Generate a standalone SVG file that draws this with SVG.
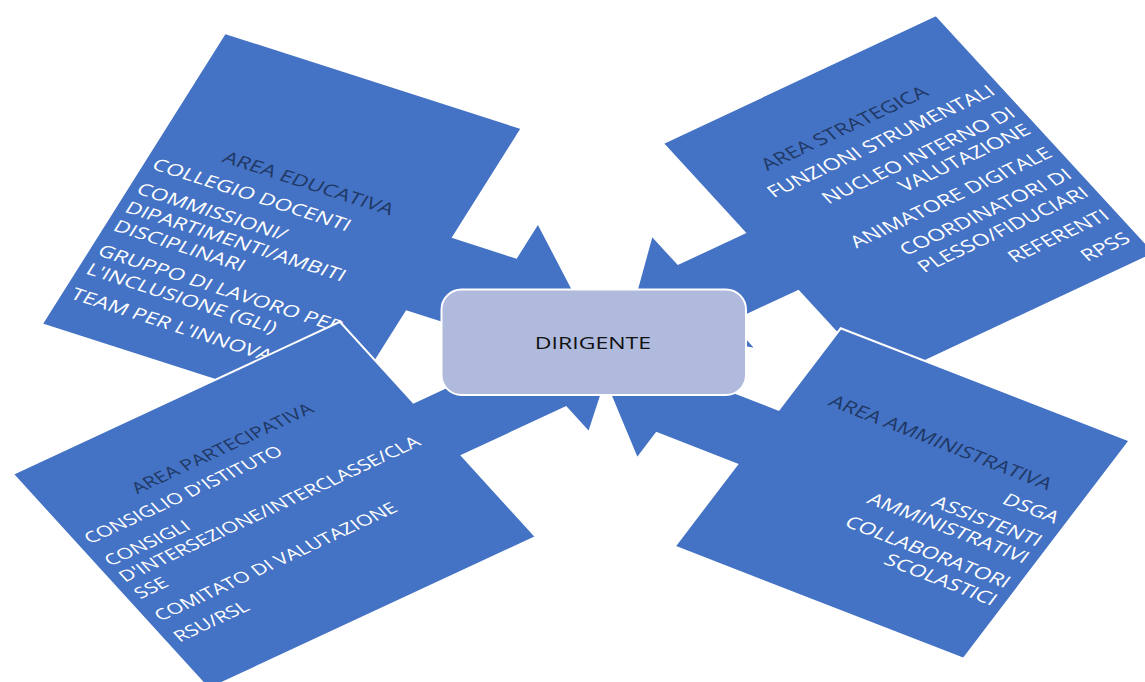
<svg xmlns="http://www.w3.org/2000/svg" width="1145" height="682" viewBox="0 0 1145 682">
<style>
.shape{fill:#4472C4;stroke:#FFFFFF;stroke-width:2;vector-effect:non-scaling-stroke;stroke-linejoin:miter}
.t{font-family:"Open Sans","Liberation Sans",sans-serif;font-size:19.5px;fill:#FFFFFF}
.h{fill:#1F3864}
.c{font-size:18.2px}
.e{text-anchor:end}
.m{text-anchor:middle}
</style>
<rect width="1145" height="682" fill="#FFFFFF"/>
<g id="area-educativa" transform="matrix(1.0790 0.3464 -0.4849 0.7707 225 33)">
<polygon class="shape" points="0,0 275,0 275,141.5 333.5,141.5 333.5,96.6 424.7,189 333.5,282 333.5,237.6 275,237.6 275,378 0,378"/>
<text class="t h m" x="137.5" y="140">AREA EDUCATIVA</text>
<text class="t" x="8.3" y="172">COLLEGIO DOCENTI</text>
<text class="t" x="8.3" y="204">COMMISSIONI/</text>
<text class="t" x="8.3" y="228">DIPARTIMENTI/AMBITI</text>
<text class="t" x="8.3" y="252">DISCIPLINARI</text>
<text class="t" x="8.3" y="284">GRUPPO DI LAVORO PER</text>
<text class="t" x="8.3" y="308">L'INCLUSIONE (GLI)</text>
<text class="t" x="8.3" y="340">TEAM PER L'INNOVAZIONE</text>
</g>
<g id="area-strategica" transform="matrix(0.9888 -0.4639 0.6495 0.7063 662.7 143.3)">
<polygon class="shape" points="0,0 276.4,0 276.4,337 0,337 0,208.9 -67.5,208.9 -67.5,247 -146.3,166.5 -67.5,86 -67.5,126.4 0,126.4"/>
<text class="t h m" x="138.2" y="76">AREA STRATEGICA</text>
<text class="t e" x="268" y="106">FUNZIONI STRUMENTALI</text>
<text class="t e" x="268" y="137.5">NUCLEO INTERNO DI</text>
<text class="t e" x="268" y="161">VALUTAZIONE</text>
<text class="t e" x="268" y="194">ANIMATORE DIGITALE</text>
<text class="t e" x="268" y="224.5">COORDINATORI DI</text>
<text class="t e" x="268" y="250">PLESSO/FIDUCIARI</text>
<text class="t e" x="268" y="282">REFERENTI</text>
<text class="t e" x="268" y="314.5">RPSS</text>
</g>
<g id="area-partecipativa" transform="matrix(0.9914 -0.4611 0.6456 0.7081 12.7 474)">
<polygon class="shape" points="0,0 330,0 330,114 435,114 435,78.5 511.3,151.5 435,224.6 435,189 330,189 330,303.6 0,303.6"/>
<text class="t c h m" x="165" y="77.5">AREA PARTECIPATIVA</text>
<text class="t c" x="9.5" y="105.5">CONSIGLIO D'ISTITUTO</text>
<text class="t c" x="9.5" y="137">CONSIGLI</text>
<text class="t c" x="9.5" y="159.5">D'INTERSEZIONE/INTERCLASSE/CLA</text>
<text class="t c" x="9.5" y="183">SSE</text>
<text class="t c" x="9.5" y="214.5">COMITATO DI VALUTAZIONE</text>
<text class="t c" x="9.5" y="244">RSU/RSL</text>
</g>
<g id="area-amministrativa" transform="matrix(1.0393 0.4037 -0.5652 0.7423 840.7 328.3)">
<polygon class="shape" points="0,0 278,0 278,294 0,294 0,183.3 -77.5,183.3 -77.5,217.7 -149,146.5 -77.5,75.3 -77.5,109.7 0,109.7"/>
<text class="t h m" x="139" y="85">AREA AMMINISTRATIVA</text>
<text class="t e" x="269" y="117">DSGA</text>
<text class="t e" x="269" y="148">ASSISTENTI</text>
<text class="t e" x="269" y="171">AMMINISTRATIVI</text>
<text class="t e" x="269" y="204">COLLABORATORI</text>
<text class="t e" x="269" y="227.6">SCOLASTICI</text>
</g>
<g id="dirigente">
<rect x="441.5" y="289.5" width="304.5" height="105.5" rx="20" ry="20" fill="#B0BADD" stroke="#FFFFFF" stroke-width="2"/>
<text class="m" transform="matrix(1.183 0 0 0.845 593 349)" x="0" y="0" font-family="'Open Sans','Liberation Sans',sans-serif" font-size="19.5" fill="#111111">DIRIGENTE</text>
</g>
</svg>
